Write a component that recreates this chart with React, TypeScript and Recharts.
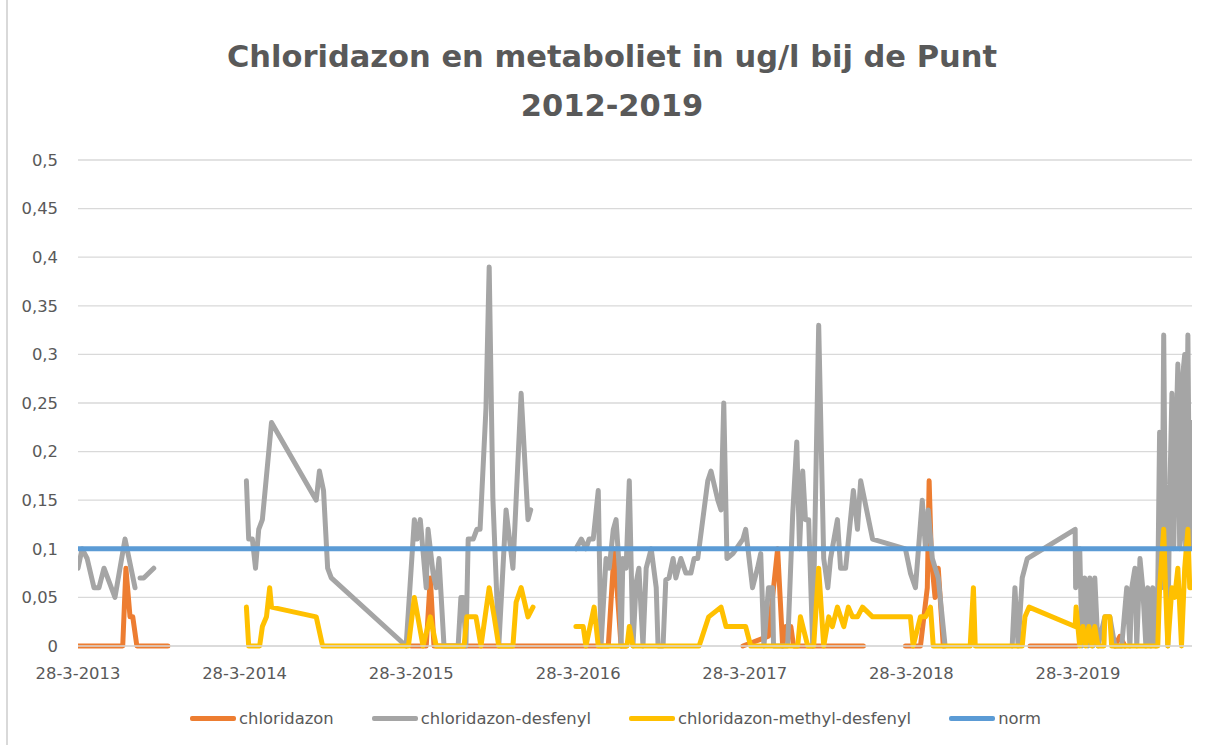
import { CartesianGrid, Line, LineChart, XAxis, YAxis } from "recharts";

type Punt = [string, number | null];

const FONT = "'DejaVu Sans', sans-serif";
const TEKST = "#595959";
const GRID = "#d9d9d9";

const titelRegels = ["Chloridazon en metaboliet in ug/l bij de Punt", "2012-2019"];

const asStart = "2013-03-28";
const asEinde = "2019-12-03";
const xTicks = ["2013-03-28", "2014-03-28", "2015-03-28", "2016-03-28", "2017-03-28", "2018-03-28", "2019-03-28"];
const yTicks = [0, 0.05, 0.1, 0.15, 0.2, 0.25, 0.3, 0.35, 0.4, 0.45, 0.5];

// null = geen meting, lijn wordt onderbroken
const chloridazon: Punt[] = [
  ["2013-03-28", 0], ["2013-07-04", 0], ["2013-07-11", 0.08], ["2013-07-20", 0.03], ["2013-07-26", 0.03],
  ["2013-08-04", 0], ["2013-10-11", 0],
  ["2014-06-01", null],
  ["2015-03-28", 0], ["2015-04-30", 0], ["2015-05-09", 0.07], ["2015-05-17", 0], ["2016-06-02", 0],
  ["2016-06-15", 0.1], ["2016-06-30", 0], ["2016-07-11", 0],
  ["2016-12-01", null],
  ["2017-03-24", 0], ["2017-05-19", 0.01], ["2017-06-08", 0.1], ["2017-06-19", 0], ["2017-06-26", 0.02],
  ["2017-07-07", 0.02], ["2017-07-13", 0], ["2017-12-13", 0],
  ["2018-02-01", null],
  ["2018-03-15", 0], ["2018-04-17", 0], ["2018-05-02", 0.06], ["2018-05-06", 0.17], ["2018-05-11", 0.09],
  ["2018-05-19", 0.05], ["2018-05-26", 0.08], ["2018-06-06", 0],
  ["2018-09-01", null],
  ["2018-12-13", 0], ["2019-03-26", 0],
  ["2019-05-01", null],
  ["2019-06-17", 0], ["2019-06-28", 0.01], ["2019-07-09", 0],
];

const desfenyl: Punt[] = [
  ["2013-03-28", 0.08], ["2013-04-06", 0.1], ["2013-04-17", 0.09], ["2013-05-02", 0.06], ["2013-05-13", 0.06],
  ["2013-05-24", 0.08], ["2013-06-17", 0.05], ["2013-07-09", 0.11], ["2013-07-31", 0.06],
  ["2013-08-05", null],
  ["2013-08-11", 0.07], ["2013-08-19", 0.07], ["2013-09-10", 0.08],
  ["2013-12-01", null],
  ["2014-04-01", 0.17], ["2014-04-06", 0.11], ["2014-04-14", 0.11], ["2014-04-21", 0.08], ["2014-04-28", 0.12],
  ["2014-05-06", 0.13], ["2014-05-26", 0.23], ["2014-09-01", 0.15], ["2014-09-08", 0.18], ["2014-09-17", 0.16],
  ["2014-09-26", 0.08], ["2014-10-04", 0.07], ["2015-03-17", 0], ["2015-04-04", 0.13], ["2015-04-10", 0.11],
  ["2015-04-17", 0.13], ["2015-04-30", 0.06], ["2015-05-04", 0.12], ["2015-05-15", 0.075], ["2015-05-22", 0.06],
  ["2015-05-28", 0.09], ["2015-06-08", 0], ["2015-07-09", 0], ["2015-07-15", 0.05], ["2015-07-20", 0.05],
  ["2015-07-26", 0], ["2015-07-31", 0.11], ["2015-08-11", 0.11], ["2015-08-19", 0.12], ["2015-08-26", 0.12],
  ["2015-09-08", 0.245], ["2015-09-15", 0.39], ["2015-09-23", 0.153], ["2015-10-06", 0], ["2015-10-22", 0.14],
  ["2015-11-06", 0.08], ["2015-11-13", 0.15], ["2015-11-24", 0.26], ["2015-12-09", 0.13], ["2015-12-15", 0.14],
  ["2016-02-01", null],
  ["2016-03-23", 0.1], ["2016-04-04", 0.11], ["2016-04-14", 0.1], ["2016-04-21", 0.11], ["2016-04-30", 0.11],
  ["2016-05-11", 0.16], ["2016-05-17", 0], ["2016-05-28", 0.09], ["2016-06-04", 0.08], ["2016-06-13", 0.12],
  ["2016-06-19", 0.13], ["2016-06-26", 0.08], ["2016-06-30", 0], ["2016-07-04", 0.09], ["2016-07-11", 0.08],
  ["2016-07-18", 0.17], ["2016-07-26", 0], ["2016-08-02", 0.065], ["2016-08-08", 0.08], ["2016-08-17", 0],
  ["2016-08-24", 0.08], ["2016-09-04", 0.1], ["2016-09-15", 0.06], ["2016-09-19", 0], ["2016-09-30", 0],
  ["2016-10-06", 0.068], ["2016-10-13", 0.07], ["2016-10-22", 0.09], ["2016-10-28", 0.07], ["2016-11-08", 0.09],
  ["2016-11-19", 0.075], ["2016-11-30", 0.075], ["2016-12-07", 0.09], ["2016-12-15", 0.09], ["2017-01-06", 0.17],
  ["2017-01-13", 0.18], ["2017-01-28", 0.15], ["2017-02-04", 0.14], ["2017-02-10", 0.25], ["2017-02-17", 0.09],
  ["2017-03-02", 0.095], ["2017-03-24", 0.11], ["2017-03-30", 0.12], ["2017-04-14", 0.06], ["2017-04-25", 0.08],
  ["2017-05-02", 0.095], ["2017-05-09", 0], ["2017-05-19", 0.06], ["2017-05-28", 0.06], ["2017-05-30", 0],
  ["2017-06-30", 0], ["2017-07-11", 0.135], ["2017-07-20", 0.21], ["2017-07-26", 0.1], ["2017-08-02", 0.18],
  ["2017-08-08", 0.13], ["2017-08-15", 0.13], ["2017-08-24", 0], ["2017-09-06", 0.33], ["2017-09-17", 0.09],
  ["2017-09-26", 0.06], ["2017-10-02", 0.09], ["2017-10-17", 0.13], ["2017-10-24", 0.08], ["2017-11-04", 0.08],
  ["2017-11-21", 0.16], ["2017-11-30", 0.12], ["2017-12-07", 0.17], ["2018-01-02", 0.11], ["2018-03-15", 0.1],
  ["2018-03-26", 0.075], ["2018-04-06", 0.06], ["2018-04-21", 0.15], ["2018-04-28", 0.1], ["2018-05-04", 0.14],
  ["2018-05-13", 0.09], ["2018-05-26", 0.07], ["2018-06-10", 0],
  ["2018-09-01", null],
  ["2018-11-04", 0], ["2018-11-10", 0.06], ["2018-11-17", 0], ["2018-11-26", 0.07], ["2018-12-07", 0.09],
  ["2019-03-22", 0.12], ["2019-03-23", 0.06], ["2019-04-01", 0.1], ["2019-04-06", 0], ["2019-04-12", 0.07],
  ["2019-04-19", 0], ["2019-04-23", 0.07], ["2019-04-30", 0], ["2019-05-04", 0.07], ["2019-05-11", 0],
  ["2019-05-26", 0.03], ["2019-06-06", 0.03], ["2019-06-17", 0], ["2019-07-02", 0], ["2019-07-13", 0.06],
  ["2019-07-20", 0], ["2019-07-24", 0.06], ["2019-07-31", 0.08], ["2019-08-04", 0], ["2019-08-11", 0.09],
  ["2019-08-17", 0.06], ["2019-08-24", 0], ["2019-08-28", 0.06], ["2019-09-04", 0], ["2019-09-08", 0.06],
  ["2019-09-15", 0], ["2019-09-19", 0.06], ["2019-09-23", 0.22], ["2019-09-28", 0.06], ["2019-10-02", 0.32],
  ["2019-10-06", 0.1], ["2019-10-11", 0], ["2019-10-15", 0.15], ["2019-10-20", 0.26], ["2019-10-24", 0.1],
  ["2019-10-28", 0.2], ["2019-11-02", 0.29], ["2019-11-06", 0.1], ["2019-11-10", 0.12], ["2019-11-13", 0.28],
  ["2019-11-17", 0.3], ["2019-11-19", 0.1], ["2019-11-24", 0.32], ["2019-11-28", 0.1], ["2019-12-01", 0.23],
  ["2019-12-03", 0.12],
];

const methylDesfenyl: Punt[] = [
  ["2014-04-01", 0.04], ["2014-04-06", 0], ["2014-04-30", 0], ["2014-05-06", 0.02], ["2014-05-15", 0.03],
  ["2014-05-22", 0.06], ["2014-05-26", 0.04], ["2014-09-01", 0.03], ["2014-09-15", 0], ["2015-03-22", 0],
  ["2015-04-04", 0.05], ["2015-04-23", 0], ["2015-05-09", 0.03], ["2015-05-22", 0], ["2015-07-22", 0],
  ["2015-07-28", 0.03], ["2015-08-17", 0.03], ["2015-08-28", 0], ["2015-09-15", 0.06], ["2015-09-26", 0.03],
  ["2015-10-06", 0], ["2015-11-06", 0], ["2015-11-13", 0.045], ["2015-11-24", 0.06], ["2015-12-09", 0.03],
  ["2015-12-20", 0.04],
  ["2016-02-01", null],
  ["2016-03-23", 0.02], ["2016-04-08", 0.02], ["2016-04-14", 0], ["2016-05-02", 0.04], ["2016-05-11", 0],
  ["2016-07-13", 0], ["2016-07-18", 0.02], ["2016-07-26", 0], ["2016-12-18", 0], ["2017-01-08", 0.03],
  ["2017-02-04", 0.04], ["2017-02-15", 0.02], ["2017-03-30", 0.02], ["2017-04-10", 0], ["2017-07-22", 0],
  ["2017-07-28", 0.03], ["2017-08-13", 0], ["2017-08-26", 0], ["2017-09-06", 0.08], ["2017-09-17", 0],
  ["2017-09-28", 0.03], ["2017-10-06", 0.02], ["2017-10-17", 0.04], ["2017-10-31", 0.02], ["2017-11-10", 0.04],
  ["2017-11-19", 0.03], ["2017-11-30", 0.03], ["2017-12-11", 0.04], ["2018-01-02", 0.03], ["2018-03-26", 0.03],
  ["2018-04-01", 0], ["2018-04-17", 0.03], ["2018-04-28", 0.03], ["2018-05-09", 0.04], ["2018-05-15", 0],
  ["2018-08-04", 0], ["2018-08-11", 0.06], ["2018-08-15", 0], ["2018-11-26", 0], ["2018-12-02", 0.03],
  ["2018-12-11", 0.04], ["2019-03-22", 0.02], ["2019-03-24", 0.04], ["2019-04-01", 0], ["2019-04-08", 0.02],
  ["2019-04-14", 0], ["2019-04-21", 0.02], ["2019-04-28", 0], ["2019-05-04", 0.02], ["2019-05-11", 0],
  ["2019-05-24", 0], ["2019-05-26", 0.03], ["2019-06-06", 0.03], ["2019-06-10", 0], ["2019-09-19", 0],
  ["2019-09-23", 0.06], ["2019-10-02", 0.12], ["2019-10-06", 0.06], ["2019-10-11", 0], ["2019-10-20", 0.06],
  ["2019-10-26", 0.05], ["2019-11-02", 0.08], ["2019-11-10", 0], ["2019-11-17", 0.08], ["2019-11-24", 0.12],
  ["2019-11-28", 0.06], ["2019-12-01", 0.06],
];

const norm: Punt[] = [["2013-03-28", 0.1], ["2019-12-03", 0.1]];

const series = [
  { naam: "chloridazon", kleur: "#ed7d31", punten: chloridazon },
  { naam: "chloridazon-desfenyl", kleur: "#a5a5a5", punten: desfenyl },
  { naam: "chloridazon-methyl-desfenyl", kleur: "#ffc000", punten: methylDesfenyl },
  { naam: "norm", kleur: "#5b9bd5", punten: norm },
];

const naarTijd = (s: string) => {
  const [j, m, d] = s.split("-").map(Number);
  return Date.UTC(j, m - 1, d);
};

const datumLabel = (t: number) => {
  const d = new Date(t);
  return `${d.getUTCDate()}-${d.getUTCMonth() + 1}-${d.getUTCFullYear()}`;
};

const getalLabel = (v: number) => String(v).replace(".", ",");

export default function App() {
  const tickStijl = { fill: TEKST, fontSize: 16.4, fontFamily: FONT };

  return (
    <div style={{ position: "absolute", left: 0, top: 0, width: 1213, height: 745, background: "#fff", overflow: "hidden" }}>
      <div style={{ position: "absolute", left: 6, top: 0, width: 1.5, height: 745, background: GRID }} />

      <div style={{ position: "absolute", left: 0, top: 0 }}>
        <LineChart width={1213} height={745} margin={{ top: 160, right: 21, bottom: 59, left: 18 }}>
          <CartesianGrid vertical={false} stroke={GRID} strokeWidth={1.3} />
          <XAxis
            type="number"
            dataKey="t"
            domain={[naarTijd(asStart), naarTijd(asEinde)]}
            ticks={xTicks.map(naarTijd)}
            tickFormatter={datumLabel}
            interval={0}
            allowDataOverflow
            height={40}
            tickSize={0}
            tickMargin={21}
            tickLine={false}
            axisLine={{ stroke: GRID, strokeWidth: 1.3 }}
            tick={tickStijl}
          />
          <YAxis
            type="number"
            domain={[0, 0.5]}
            ticks={yTicks}
            tickFormatter={getalLabel}
            interval={0}
            width={60}
            tickSize={0}
            tickMargin={20}
            tickLine={false}
            axisLine={false}
            tick={tickStijl}
          />
          {series.map((s) => (
            <Line
              key={s.naam}
              name={s.naam}
              data={s.punten.map(([d, v]) => ({ t: naarTijd(d), v }))}
              dataKey="v"
              type="linear"
              stroke={s.kleur}
              strokeWidth={5}
              strokeLinejoin="round"
              strokeLinecap="round"
              dot={false}
              activeDot={false}
              isAnimationActive={false}
            />
          ))}
        </LineChart>
      </div>

      <svg width={1213} height={140} style={{ position: "absolute", left: 0, top: 0 }}>
        {titelRegels.map((regel, i) => (
          <text
            key={regel}
            x={612}
            y={67 + i * 49}
            textAnchor="middle"
            fontFamily={FONT}
            fontWeight="bold"
            fontSize={30.5}
            fill={TEKST}
          >
            {regel}
          </text>
        ))}
      </svg>

      <div
        style={{
          position: "absolute",
          left: 18,
          top: 706,
          width: 1195,
          height: 24,
          display: "flex",
          justifyContent: "center",
          alignItems: "center",
          gap: 38,
          fontFamily: FONT,
          fontSize: 16.4,
          color: TEKST,
        }}
      >
        {series.map((s) => (
          <div key={s.naam} style={{ display: "flex", alignItems: "center" }}>
            <span style={{ display: "inline-block", width: 46, height: 5, background: s.kleur, borderRadius: 2, marginRight: 3 }} />
            <span>{s.naam}</span>
          </div>
        ))}
      </div>
    </div>
  );
}
